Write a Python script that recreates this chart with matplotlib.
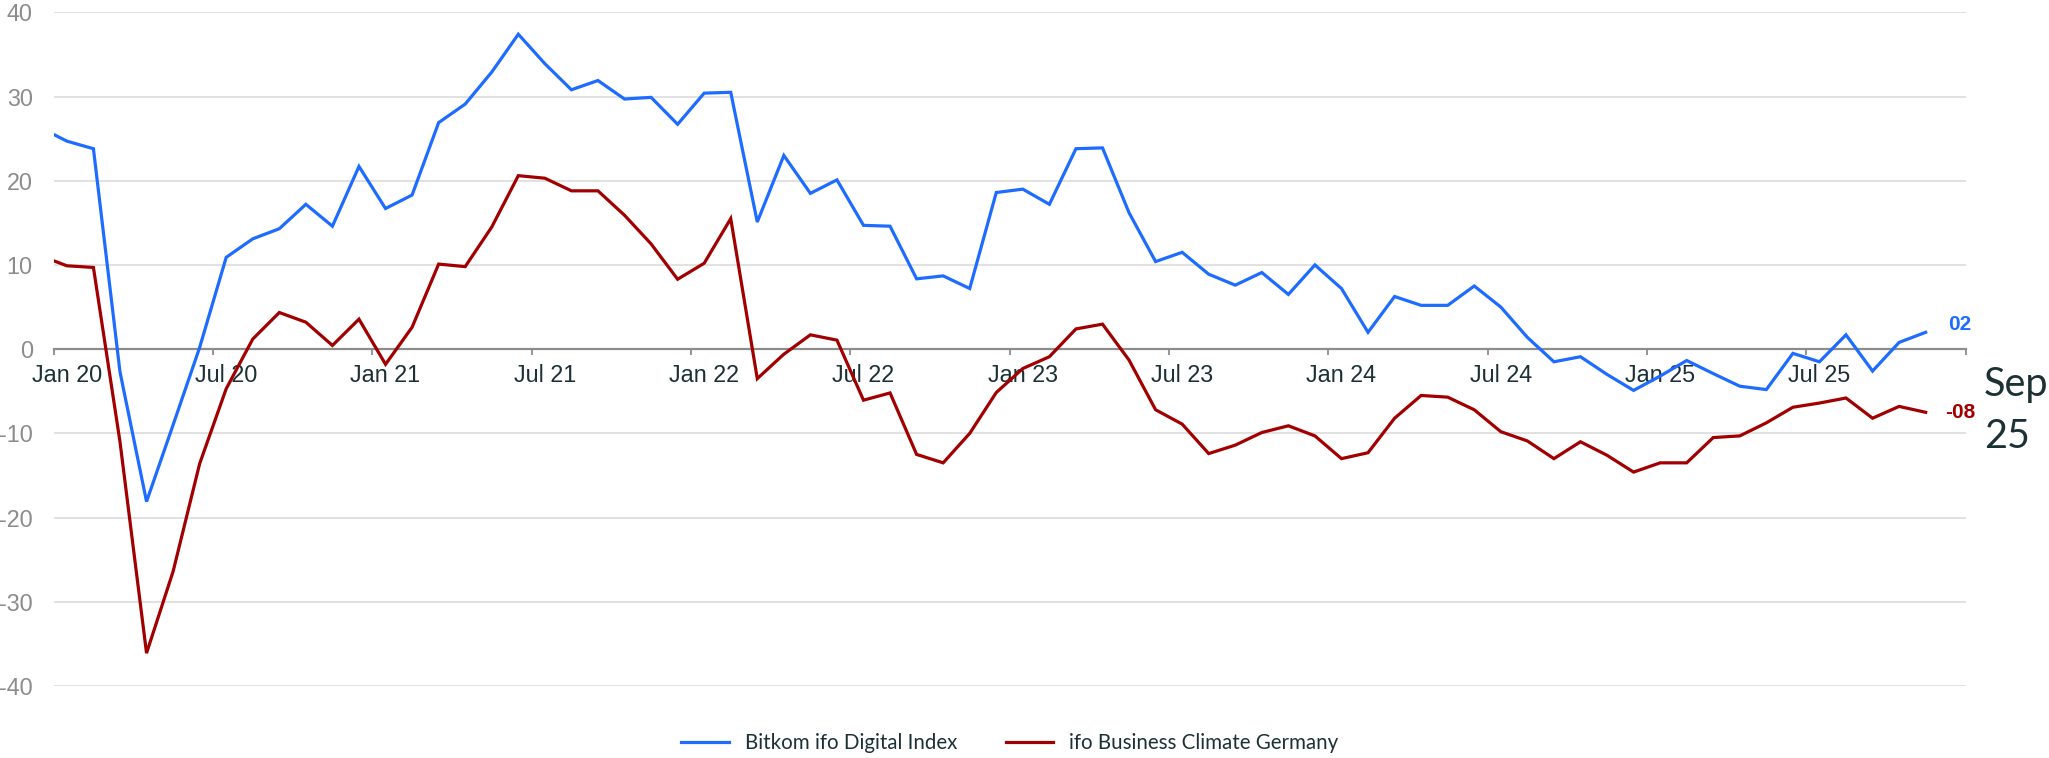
import matplotlib
matplotlib.use("Agg")
import matplotlib.pyplot as plt
import numpy as np
from matplotlib.lines import Line2D

# ---------------- data (monthly, Dec 2019 .. Nov 2025) ----------------
bitkom_digital = [26.3, 24.7, 23.8, -2.7, -18.1, -9.0, 0.2, 10.9, 13.1, 14.3, 17.2, 14.6, 21.7,
                  16.7, 18.3, 26.9, 29.1, 32.9, 37.4, 33.9, 30.8, 31.9, 29.7, 29.9, 26.7,
                  30.4, 30.5, 15.1, 23.0, 18.5, 20.1, 14.7, 14.6, 8.35, 8.7, 7.2, 18.6,
                  19.0, 17.2, 23.8, 23.9, 16.2, 10.4, 11.5, 8.9, 7.6, 9.1, 6.5, 10.0,
                  7.2, 2.0, 6.25, 5.2, 5.2, 7.5, 5.0, 1.4, -1.5, -0.9, -3.0, -4.9,
                  -3.2, -1.35, -2.9, -4.4, -4.8, -0.5, -1.5, 1.7, -2.6, 0.8, 2.0]
ifo_business = [11.1, 9.9, 9.7, -11.0, -36.1, -26.4, -13.6, -4.7, 1.2, 4.35, 3.2, 0.44, 3.56,
                -1.8, 2.6, 10.1, 9.8, 14.5, 20.6, 20.3, 18.8, 18.8, 15.9, 12.5, 8.3,
                10.2, 15.5, -3.5, -0.6, 1.7, 1.07, -6.06, -5.2, -12.5, -13.5, -10.0, -5.15,
                -2.3, -0.9, 2.4, 2.97, -1.3, -7.2, -8.9, -12.4, -11.4, -9.9, -9.1, -10.3,
                -13.0, -12.3, -8.2, -5.5, -5.7, -7.2, -9.8, -10.9, -13.0, -11.0, -12.6, -14.6,
                -13.5, -13.5, -10.5, -10.3, -8.75, -6.9, -6.4, -5.8, -8.2, -6.8, -7.5]
series_names = ["Bitkom ifo Digital Index", "ifo Business Climate Germany"]
x_labels = ["Jan 20", "Jul 20", "Jan 21", "Jul 21", "Jan 22", "Jul 22",
            "Jan 23", "Jul 23", "Jan 24", "Jul 24", "Jan 25", "Jul 25"]
y_ticks = [-40, -30, -20, -10, 0, 10, 20, 30, 40]
end_labels = ["02", "-08"]
date_label = ["Sep", "25"]

BLUE = "#1e6cff"
RED = "#a20000"
DARK = "#1c3136"
GREY = "#8c8c8c"

plt.rcParams["font.family"] = ["Liberation Sans", "DejaVu Sans"]

W, H = 2049, 758
fig = plt.figure(figsize=(W / 100, H / 100), dpi=100)
ax = fig.add_axes([53.6 / W, 72 / H, (1965.5 - 53.6) / W, (686 - 12.3) / H])

# month index: Jan 2020 start = 0, points at mid-month; first point is Dec 2019
x = np.arange(len(bitkom_digital)) - 0.5

ax.plot(x, bitkom_digital, color=BLUE, lw=2.3, solid_joinstyle="miter", zorder=3)
ax.plot(x, ifo_business, color=RED, lw=2.3, solid_joinstyle="miter", zorder=3)

ax.set_xlim(0, 72)
ax.set_ylim(-40, 40)

ax.set_yticks(y_ticks)
ax.set_yticklabels([str(v) for v in y_ticks])
ax.yaxis.grid(True, color="#d9d9d9", lw=1.1)
ax.set_axisbelow(True)
for s in ["top", "right", "left"]:
    ax.spines[s].set_visible(False)
ax.spines["bottom"].set_position(("data", 0))
ax.spines["bottom"].set_color(GREY)
ax.spines["bottom"].set_linewidth(1.6)
ax.spines["bottom"].set_zorder(2)

ax.set_xticks(np.arange(0, 73, 6))
ax.set_xticklabels([""] * 13)
ax.set_xticks(np.arange(0, 72, 6) + 0.5, minor=True)
ax.set_xticklabels(x_labels, minor=True)
ax.tick_params(axis="x", which="major", length=4.5, width=1.3, color=GREY, direction="out")
ax.tick_params(axis="x", which="minor", length=0, pad=10.5, labelsize=16.8, labelcolor=DARK)
ax.tick_params(axis="y", length=0, pad=15, labelsize=16.8, labelcolor=GREY)

ax.annotate(end_labels[0], xy=(x[-1], bitkom_digital[-1]), xytext=(16, 5.5),
            textcoords="offset points", ha="left", va="center", color=BLUE,
            fontsize=15, fontweight="bold", family="Liberation Sans", annotation_clip=False)
ax.annotate(end_labels[1], xy=(x[-1], ifo_business[-1]), xytext=(14, 0),
            textcoords="offset points", ha="left", va="center", color=RED,
            fontsize=15, fontweight="bold", family="Liberation Sans", annotation_clip=False)

fig.text(1984 / W, 1 - 396 / H, date_label[0], ha="left", va="baseline",
         fontsize=28.5, color=DARK, family="Lato")
fig.text(1984 / W, 1 - 448.5 / H, date_label[1], ha="left", va="baseline",
         fontsize=28.5, color=DARK, family="Lato")

handles = [Line2D([], [], color=BLUE, lw=2.3), Line2D([], [], color=RED, lw=2.3)]
leg = fig.legend(handles, series_names, loc="center", ncol=2,
                 bbox_to_anchor=(1010 / W, 15 / H), frameon=False,
                 prop={"family": "Lato", "size": 14.8}, handlelength=2.3,
                 handletextpad=0.8, columnspacing=2.35)
for t in leg.get_texts():
    t.set_color(DARK)

fig.savefig("out.png", dpi=100)
